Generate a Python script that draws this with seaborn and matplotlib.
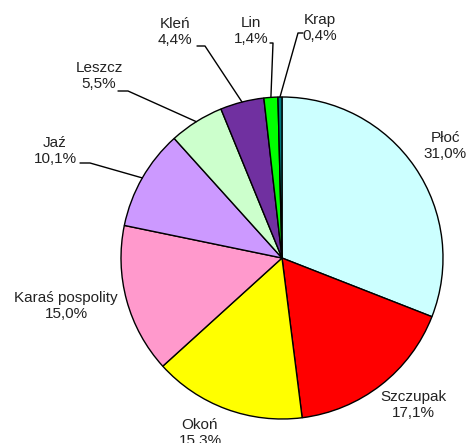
import numpy as np
import matplotlib
matplotlib.use('Agg')
import matplotlib.pyplot as plt
import seaborn as sns

sns.set_style('white')
plt.rcParams['font.family'] = ['Liberation Sans', 'DejaVu Sans']

# data
species = ['Płoć', 'Szczupak', 'Okoń', 'Karaś pospolity', 'Jaź',
           'Leszcz', 'Kleń', 'Lin', 'Krap']
shares = [31.0, 17.1, 15.3, 15.0, 10.1, 5.5, 4.4, 1.4, 0.4]
colors = ['#CCFFFF', '#FF0000', '#FFFF00', '#FF99CC', '#CC99FF',
          '#CCFFCC', '#7030A0', '#00FF00', '#007A80']

W, H = 466, 443
fig = plt.figure(figsize=(W / 100, H / 100), dpi=100)
ax = fig.add_axes([0, 0, 1, 1])

cx, cy, r = 282, H - 258, 161
ax.pie(shares, colors=colors, startangle=90, counterclock=False,
       center=(cx, cy), radius=r, frame=True,
       wedgeprops=dict(edgecolor='black', linewidth=1.0))
ax.set_xlim(0, W)
ax.set_ylim(0, H)
ax.set_aspect('equal')
ax.axis('off')

# label placement in pixel coords (x, y from top), and leader stubs
label_pos = {
    'Płoć': (445, 146), 'Szczupak': (413, 405), 'Okoń': (200, 433),
    'Karaś pospolity': (66, 306), 'Jaź': (55, 151), 'Leszcz': (99, 76),
    'Kleń': (175, 32), 'Lin': (251, 31), 'Krap': (320, 28),
}
stubs = {
    'Jaź': [(80, 163), (90, 163)],
    'Leszcz': [(118, 91), (128, 91)],
    'Kleń': [(197, 46), (205, 46)],
    'Lin': [(270, 43), (273, 43)],
    'Krap': [(303, 33), (298, 33)],
}

total = sum(shares)
cum = np.cumsum([0] + shares)
for i, name in enumerate(species):
    txt = name + '\n' + f'{shares[i]:.1f}'.replace('.', ',') + '%'
    x, y = label_pos[name]
    ax.text(x, H - y, txt, ha='center', va='center', multialignment='center',
            fontsize=11, color='#222222', linespacing=1.25)
    if name in stubs:
        mid = (cum[i] + shares[i] / 2) / total * 360
        ang = np.deg2rad(90 - mid)
        ex, ey = cx + r * np.cos(ang), cy + r * np.sin(ang)
        (x0, y0), (x1, y1) = stubs[name]
        ax.plot([x0, x1, ex], [H - y0, H - y1, ey], color='black', lw=1.0)

fig.savefig('out.png', dpi=100)
